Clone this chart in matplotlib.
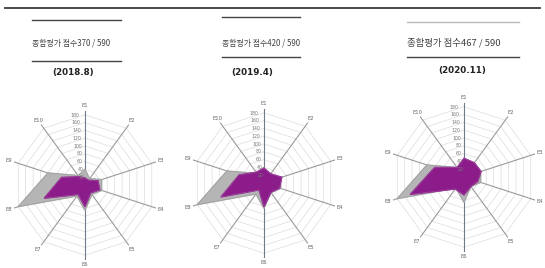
import numpy as np
import matplotlib.pyplot as plt
from matplotlib.lines import Line2D

plt.rcParams['font.family'] = ['Noto Sans CJK KR', 'DejaVu Sans']

axis_labels = ['E1', 'E2', 'E3', 'E4', 'E5', 'E6', 'E7', 'E8', 'E9', 'E10']
ring_ticks = [20, 40, 60, 80, 100, 120, 140, 160, 180]

# max score per item (gray) - sums to 590
max_scores = [40, 20, 45, 45, 30, 65, 35, 180, 100, 30]

# actual score per evaluation (purple)
scores_2018 = [18, 15, 35, 40, 25, 56, 30, 110, 63, 26]
scores_2019 = [38, 29, 48, 42, 30, 61, 22, 116, 67, 34]
scores_2020 = [48, 45, 46, 37, 30, 46, 38, 145, 79, 30]

titles = ['종합평가 점수370 / 590', '종합평가 점수420 / 590', '종합평가 점수467 / 590']
dates = ['(2018.8)', '(2019.4)', '(2020.11)']
panel_scores = [scores_2018, scores_2019, scores_2020]

W, H = 545, 268
fig = plt.figure(figsize=(W / 100, H / 100), dpi=100)

# centres of each radar in pixels
centres = [(85, 185), (264, 183), (464, 177)]
R = 78  # pixels for r=200

# title block positions (pixels): line1 y, text y, line2 y, date y, x0, x1, date x
title_blocks = [
    (20, 43, 61, 72, 32, 121, 73),
    (17, 43, 57, 72, 222, 300, 252),
    (22, 43, 57, 70, 407, 519, 462),
]

# long line at top
fig.add_artist(Line2D([5 / W, 540 / W], [1 - 8 / H, 1 - 8 / H], color='#3a3a3a', lw=1.3))

theta = np.linspace(0, 2 * np.pi, len(axis_labels), endpoint=False)
theta_c = np.append(theta, theta[0])

for i, (cx, cy) in enumerate(centres):
    ax = fig.add_axes([(cx - R) / W, (H - cy - R) / H, 2 * R / W, 2 * R / H], projection='polar')
    ax.set_theta_zero_location('N')
    ax.set_theta_direction(-1)
    ax.set_ylim(0, 200)
    ax.axis('off')

    # decagon rings
    for t in ring_ticks:
        ax.plot(theta_c, [t] * len(theta_c), color='#dcdcdc', lw=0.5, zorder=1)
    # spokes
    for k, th in enumerate(theta):
        c = '#6f7c8c' if k in (0, 5) else '#9a9a9a'
        ax.plot([th, th], [0, 190], color=c, lw=0.8, zorder=2)
        ax.text(th, 205, axis_labels[k], fontsize=3.8, color='#666666',
                ha='center', va='center', family='DejaVu Sans')

    gray = np.append(max_scores, max_scores[0])
    ax.fill(theta_c, gray, color='#b5b5b5', zorder=3)
    ax.plot(theta_c, gray, color='#a0a0a0', lw=0.6, zorder=3)

    sc = panel_scores[i]
    pur = np.append(sc, sc[0])
    ax.fill(theta_c, pur, color='#8c1c8a', zorder=4)
    ax.plot(theta_c, pur, color='#a04aa0', lw=0.5, zorder=4)

    for t in ring_ticks:
        ax.text(np.radians(-4 - 60 / t), t, str(t), fontsize=3.3, color='#777777',
                ha='right', va='center', family='DejaVu Sans', zorder=5)

    # title block
    y1, yt, y2, yd, x0, x1, xd = title_blocks[i]
    lc = '#bbbbbb' if i == 2 else '#444444'
    fig.add_artist(Line2D([x0 / W, x1 / W], [1 - y1 / H, 1 - y1 / H], color=lc, lw=1.0))
    fig.add_artist(Line2D([x0 / W, x1 / W], [1 - y2 / H, 1 - y2 / H], color='#444444', lw=1.0))
    fig.text(x0 / W, 1 - yt / H, titles[i], fontsize=5.7 if i < 2 else 6.8, color='#444444',
             ha='left', va='center')
    fig.text(xd / W, 1 - yd / H, dates[i], fontsize=6.3, fontweight='bold', color='#222222',
             ha='center', va='center', family='DejaVu Sans')

fig.savefig('out.png', dpi=100, facecolor='white')
